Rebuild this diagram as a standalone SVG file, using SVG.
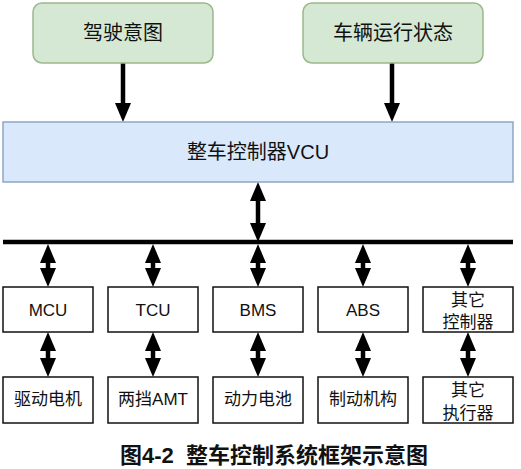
<svg xmlns="http://www.w3.org/2000/svg" width="521" height="469" viewBox="0 0 521 469">
<style>
text{font-family:"Liberation Sans","Noto Sans CJK SC",sans-serif;fill:#111;text-anchor:middle}
.t20{font-size:20px}
.t17{font-size:17px}
.cap{font-size:22px;font-weight:bold;text-anchor:start}
.green{fill:#d5e8d4;stroke:#9ab88a;stroke-width:1.5}
.blue{fill:#dae8fc;stroke:#8ea6c6;stroke-width:1.5}
.box{fill:#fff;stroke:#111;stroke-width:1.5}
.ln{stroke:#000;stroke-width:4.5;fill:none}
.one{marker-end:url(#ah)}
.two{marker-end:url(#ah);marker-start:url(#ahs)}
</style>
<defs>
<marker id="ah" markerUnits="userSpaceOnUse" markerWidth="19" markerHeight="16" refX="0" refY="8" orient="auto" viewBox="0 0 19 16">
<path d="M0,0 L19,8 L0,16 z" fill="#000"/>
</marker>
<marker id="ahs" markerUnits="userSpaceOnUse" markerWidth="19" markerHeight="16" refX="0" refY="8" orient="auto-start-reverse" viewBox="0 0 19 16">
<path d="M0,0 L19,8 L0,16 z" fill="#000"/>
</marker>
</defs>
<rect x="0" y="0" width="521" height="469" fill="#fff"/>
<g id="connectors">
<line class="ln one" x1="123" y1="63" x2="123" y2="103"/>
<line class="ln one" x1="392" y1="63" x2="392" y2="103"/>
<line class="ln two" x1="258" y1="201" x2="258" y2="223"/>
<line x1="3" y1="242" x2="513" y2="242" stroke="#000" stroke-width="4.5"/>
<line class="ln two" x1="48" y1="263" x2="48" y2="268"/>
<line class="ln two" x1="153" y1="263" x2="153" y2="268"/>
<line class="ln two" x1="258" y1="263" x2="258" y2="268"/>
<line class="ln two" x1="363" y1="263" x2="363" y2="268"/>
<line class="ln two" x1="468" y1="263" x2="468" y2="268"/>
<line class="ln two" x1="48" y1="351" x2="48" y2="358"/>
<line class="ln two" x1="153" y1="351" x2="153" y2="358"/>
<line class="ln two" x1="258" y1="351" x2="258" y2="358"/>
<line class="ln two" x1="363" y1="351" x2="363" y2="358"/>
<line class="ln two" x1="468" y1="351" x2="468" y2="358"/>
</g>
<g id="intent"><rect class="green" x="33" y="3" width="180" height="60" rx="9"/><text class="t20" x="123" y="40">驾驶意图</text></g>
<g id="state"><rect class="green" x="303" y="3" width="180" height="60" rx="9"/><text class="t20" x="393" y="40">车辆运行状态</text></g>
<g id="vcu"><rect class="blue" x="3" y="122" width="510" height="60"/><text class="t20" x="258" y="159">整车控制器VCU</text></g>
<g id="mcu"><rect class="box" x="3" y="287" width="90" height="45"/><text class="t17" x="48" y="316">MCU</text></g>
<g id="tcu"><rect class="box" x="108" y="287" width="90" height="45"/><text class="t17" x="153" y="316">TCU</text></g>
<g id="bms"><rect class="box" x="213" y="287" width="90" height="45"/><text class="t17" x="258" y="316">BMS</text></g>
<g id="abs"><rect class="box" x="318" y="287" width="90" height="45"/><text class="t17" x="363" y="316">ABS</text></g>
<g id="otherctrl"><rect class="box" x="423" y="287" width="90" height="45"/><text class="t17" x="468" y="306">其它</text><text class="t17" x="468" y="328">控制器</text></g>
<g id="motor"><rect class="box" x="3" y="377" width="90" height="46"/><text class="t17" x="48" y="405">驱动电机</text></g>
<g id="amt"><rect class="box" x="108" y="377" width="90" height="46"/><text class="t17" x="153" y="405">两挡AMT</text></g>
<g id="battery"><rect class="box" x="213" y="377" width="90" height="46"/><text class="t17" x="258" y="405">动力电池</text></g>
<g id="brake"><rect class="box" x="318" y="377" width="90" height="46"/><text class="t17" x="363" y="405">制动机构</text></g>
<g id="otheract"><rect class="box" x="423" y="377" width="90" height="46"/><text class="t17" x="468" y="396">其它</text><text class="t17" x="468" y="419">执行器</text></g>
<text class="cap" x="120" y="463" xml:space="preserve">图4-2  整车控制系统框架示意图</text>
</svg>
